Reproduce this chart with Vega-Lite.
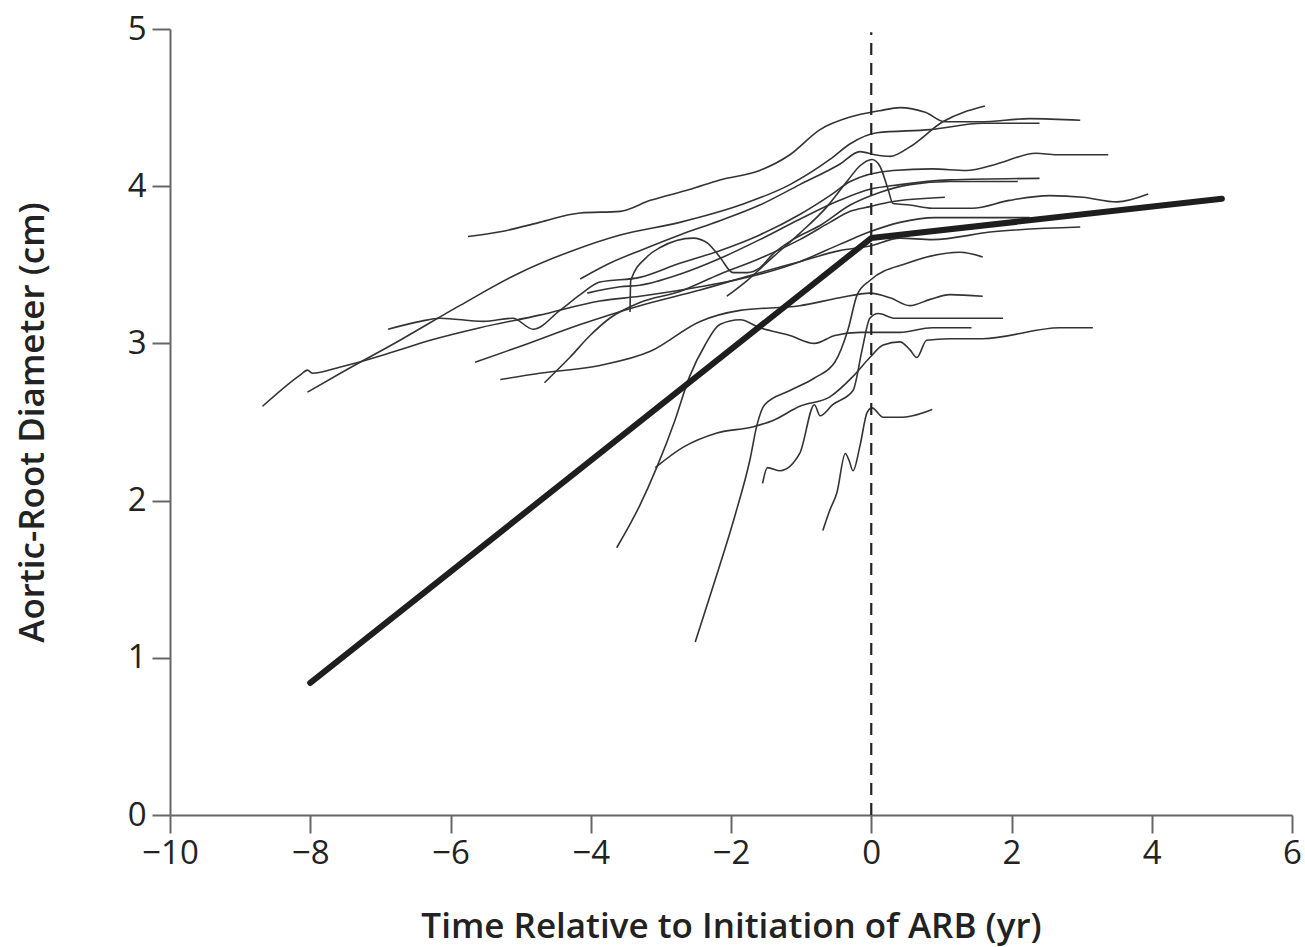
{
  "$schema": "https://vega.github.io/schema/vega-lite/v6.json",
  "width": 1122,
  "height": 786,
  "autosize": "none",
  "padding": {"left": 170, "top": 29, "right": 13, "bottom": 132},
  "background": "white",
  "config": {
    "view": {"stroke": null},
    "font": "Open Sans",
    "axis": {
      "grid": false,
      "domainColor": "#666666",
      "domainWidth": 2,
      "tickColor": "#666666",
      "tickWidth": 2,
      "tickSize": 18,
      "labelFont": "Open Sans",
      "labelFontSize": 33,
      "labelColor": "#222222",
      "labelFlush": false,
      "labelOverlap": false,
      "labelBound": false,
      "format": "d",
      "titleFont": "Open Sans",
      "titleFontSize": 35,
      "titleFontWeight": 600,
      "titleColor": "#222222"
    }
  },
  "datasets": {
    "curves": [
      {"s":"c1","x":-5.75,"y":3.68},{"s":"c1","x":-5.29,"y":3.71},{"s":"c1","x":-4.73,"y":3.77},{"s":"c1","x":-4.15,"y":3.83},{"s":"c1","x":-3.58,"y":3.84},{"s":"c1","x":-3.15,"y":3.91},{"s":"c1","x":-2.58,"y":3.98},{"s":"c1","x":-2.16,"y":4.04},{"s":"c1","x":-1.59,"y":4.10},{"s":"c1","x":-1.16,"y":4.20},{"s":"c1","x":-0.73,"y":4.36},{"s":"c1","x":-0.30,"y":4.44},{"s":"c1","x":0.12,"y":4.48},{"s":"c1","x":0.41,"y":4.50},{"s":"c1","x":0.77,"y":4.47},{"s":"c1","x":1.05,"y":4.41},{"s":"c1","x":1.55,"y":4.41},{"s":"c1","x":2.26,"y":4.43},{"s":"c1","x":2.98,"y":4.42},
      {"s":"c2","x":-8.04,"y":2.69},{"s":"c2","x":-7.57,"y":2.81},{"s":"c2","x":-6.72,"y":3.02},{"s":"c2","x":-5.87,"y":3.24},{"s":"c2","x":-5.01,"y":3.45},{"s":"c2","x":-4.26,"y":3.59},{"s":"c2","x":-3.58,"y":3.69},{"s":"c2","x":-2.73,"y":3.77},{"s":"c2","x":-1.87,"y":3.88},{"s":"c2","x":-1.16,"y":4.01},{"s":"c2","x":-0.59,"y":4.17},{"s":"c2","x":-0.30,"y":4.27},{"s":"c2","x":0.08,"y":4.34},{"s":"c2","x":0.84,"y":4.36},{"s":"c2","x":1.59,"y":4.40},{"s":"c2","x":2.40,"y":4.40},
      {"s":"c3","x":-4.15,"y":3.41},{"s":"c3","x":-3.73,"y":3.51},{"s":"c3","x":-3.30,"y":3.59},{"s":"c3","x":-2.73,"y":3.69},{"s":"c3","x":-2.16,"y":3.78},{"s":"c3","x":-1.59,"y":3.88},{"s":"c3","x":-1.02,"y":4.01},{"s":"c3","x":-0.45,"y":4.14},{"s":"c3","x":-0.16,"y":4.22},{"s":"c3","x":0.05,"y":4.20},{"s":"c3","x":0.27,"y":4.19},{"s":"c3","x":0.55,"y":4.25},{"s":"c3","x":1.02,"y":4.41},{"s":"c3","x":1.62,"y":4.51},
      {"s":"c4","x":-6.89,"y":3.09},{"s":"c4","x":-6.43,"y":3.14},{"s":"c4","x":-6.15,"y":3.16},{"s":"c4","x":-5.53,"y":3.14},{"s":"c4","x":-5.11,"y":3.16},{"s":"c4","x":-4.82,"y":3.09},{"s":"c4","x":-4.44,"y":3.21},{"s":"c4","x":-4.15,"y":3.31},{"s":"c4","x":-3.87,"y":3.39},{"s":"c4","x":-3.30,"y":3.42},{"s":"c4","x":-2.73,"y":3.51},{"s":"c4","x":-2.16,"y":3.59},{"s":"c4","x":-1.59,"y":3.69},{"s":"c4","x":-1.02,"y":3.82},{"s":"c4","x":-0.59,"y":3.94},{"s":"c4","x":-0.30,"y":4.03},{"s":"c4","x":0.31,"y":4.10},{"s":"c4","x":0.87,"y":4.11},{"s":"c4","x":1.36,"y":4.10},{"s":"c4","x":1.78,"y":4.14},{"s":"c4","x":2.35,"y":4.21},{"s":"c4","x":2.64,"y":4.20},{"s":"c4","x":3.38,"y":4.20},
      {"s":"c5","x":-3.44,"y":3.20},{"s":"c5","x":-3.43,"y":3.40},{"s":"c5","x":-3.20,"y":3.55},{"s":"c5","x":-3.01,"y":3.61},{"s":"c5","x":-2.54,"y":3.67},{"s":"c5","x":-2.34,"y":3.64},{"s":"c5","x":-2.16,"y":3.55},{"s":"c5","x":-1.97,"y":3.45},{"s":"c5","x":-1.77,"y":3.45},{"s":"c5","x":-1.59,"y":3.48},{"s":"c5","x":-1.40,"y":3.57},{"s":"c5","x":-1.12,"y":3.66},{"s":"c5","x":-0.73,"y":3.75},{"s":"c5","x":-0.30,"y":3.88},{"s":"c5","x":0.12,"y":3.96},{"s":"c5","x":0.55,"y":4.01},{"s":"c5","x":1.12,"y":4.03},{"s":"c5","x":2.09,"y":4.03},
      {"s":"c6","x":-5.65,"y":2.88},{"s":"c6","x":-5.01,"y":2.98},{"s":"c6","x":-4.15,"y":3.12},{"s":"c6","x":-3.30,"y":3.24},{"s":"c6","x":-2.44,"y":3.34},{"s":"c6","x":-1.59,"y":3.45},{"s":"c6","x":-1.02,"y":3.52},{"s":"c6","x":-0.45,"y":3.59},{"s":"c6","x":-0.02,"y":3.62},{"s":"c6","x":0.41,"y":3.67},{"s":"c6","x":0.87,"y":3.66},{"s":"c6","x":1.73,"y":3.71},{"s":"c6","x":2.98,"y":3.74},
      {"s":"c7","x":-4.66,"y":2.75},{"s":"c7","x":-4.30,"y":2.91},{"s":"c7","x":-4.01,"y":3.05},{"s":"c7","x":-3.73,"y":3.16},{"s":"c7","x":-3.30,"y":3.26},{"s":"c7","x":-2.73,"y":3.33},{"s":"c7","x":-2.16,"y":3.44},{"s":"c7","x":-1.59,"y":3.54},{"s":"c7","x":-1.02,"y":3.66},{"s":"c7","x":-0.59,"y":3.77},{"s":"c7","x":-0.30,"y":3.84},{"s":"c7","x":-0.02,"y":3.87},{"s":"c7","x":0.27,"y":3.90},{"s":"c7","x":1.05,"y":3.93},
      {"s":"c8","x":-8.68,"y":2.60},{"s":"c8","x":-8.14,"y":2.80},{"s":"c8","x":-8.04,"y":2.83},{"s":"c8","x":-7.97,"y":2.81},{"s":"c8","x":-7.57,"y":2.85},{"s":"c8","x":-6.86,"y":2.94},{"s":"c8","x":-6.29,"y":3.02},{"s":"c8","x":-5.58,"y":3.10},{"s":"c8","x":-4.73,"y":3.18},{"s":"c8","x":-3.87,"y":3.27},{"s":"c8","x":-3.30,"y":3.30},{"s":"c8","x":-2.44,"y":3.36},{"s":"c8","x":-1.59,"y":3.44},{"s":"c8","x":-1.02,"y":3.52},{"s":"c8","x":-0.45,"y":3.63},{"s":"c8","x":-0.02,"y":3.71},{"s":"c8","x":0.41,"y":3.77},{"s":"c8","x":0.91,"y":3.80},{"s":"c8","x":2.26,"y":3.80},
      {"s":"c9","x":-4.05,"y":3.32},{"s":"c9","x":-3.58,"y":3.36},{"s":"c9","x":-3.30,"y":3.37},{"s":"c9","x":-2.73,"y":3.44},{"s":"c9","x":-2.16,"y":3.54},{"s":"c9","x":-1.59,"y":3.66},{"s":"c9","x":-1.02,"y":3.79},{"s":"c9","x":-0.45,"y":3.91},{"s":"c9","x":-0.02,"y":3.98},{"s":"c9","x":0.41,"y":4.01},{"s":"c9","x":1.12,"y":4.04},{"s":"c9","x":2.40,"y":4.05},
      {"s":"c10","x":-2.06,"y":3.30},{"s":"c10","x":-1.77,"y":3.40},{"s":"c10","x":-1.40,"y":3.55},{"s":"c10","x":-1.02,"y":3.70},{"s":"c10","x":-0.63,"y":3.87},{"s":"c10","x":-0.33,"y":4.04},{"s":"c10","x":-0.16,"y":4.13},{"s":"c10","x":0.01,"y":4.17},{"s":"c10","x":0.12,"y":4.13},{"s":"c10","x":0.24,"y":3.98},{"s":"c10","x":0.31,"y":3.89},{"s":"c10","x":0.55,"y":3.88},{"s":"c10","x":0.87,"y":3.86},{"s":"c10","x":1.44,"y":3.86},{"s":"c10","x":1.97,"y":3.91},{"s":"c10","x":2.54,"y":3.94},{"s":"c10","x":3.02,"y":3.93},{"s":"c10","x":3.50,"y":3.90},{"s":"c10","x":3.95,"y":3.95},
      {"s":"c11","x":-5.29,"y":2.77},{"s":"c11","x":-4.73,"y":2.81},{"s":"c11","x":-3.87,"y":2.86},{"s":"c11","x":-3.15,"y":2.95},{"s":"c11","x":-2.44,"y":3.14},{"s":"c11","x":-1.87,"y":3.21},{"s":"c11","x":-1.02,"y":3.24},{"s":"c11","x":-0.45,"y":3.29},{"s":"c11","x":-0.02,"y":3.32},{"s":"c11","x":0.27,"y":3.29},{"s":"c11","x":0.55,"y":3.24},{"s":"c11","x":0.84,"y":3.28},{"s":"c11","x":1.12,"y":3.31},{"s":"c11","x":1.59,"y":3.30},
      {"s":"c12","x":-2.51,"y":1.10},{"s":"c12","x":-2.23,"y":1.49},{"s":"c12","x":-1.94,"y":1.91},{"s":"c12","x":-1.73,"y":2.26},{"s":"c12","x":-1.63,"y":2.48},{"s":"c12","x":-1.52,"y":2.61},{"s":"c12","x":-1.16,"y":2.70},{"s":"c12","x":-0.81,"y":2.78},{"s":"c12","x":-0.52,"y":2.88},{"s":"c12","x":-0.33,"y":3.09},{"s":"c12","x":-0.20,"y":3.31},{"s":"c12","x":-0.02,"y":3.40},{"s":"c12","x":0.51,"y":3.51},{"s":"c12","x":1.27,"y":3.58},{"s":"c12","x":1.59,"y":3.55},
      {"s":"c13","x":-3.63,"y":1.70},{"s":"c13","x":-3.30,"y":1.97},{"s":"c13","x":-3.06,"y":2.21},{"s":"c13","x":-2.80,"y":2.51},{"s":"c13","x":-2.59,"y":2.79},{"s":"c13","x":-2.37,"y":2.99},{"s":"c13","x":-2.16,"y":3.12},{"s":"c13","x":-1.87,"y":3.15},{"s":"c13","x":-1.59,"y":3.10},{"s":"c13","x":-1.16,"y":3.05},{"s":"c13","x":-0.81,"y":3.00},{"s":"c13","x":-0.52,"y":3.05},{"s":"c13","x":-0.16,"y":3.07},{"s":"c13","x":0.41,"y":3.07},{"s":"c13","x":0.87,"y":3.10},{"s":"c13","x":1.43,"y":3.10},
      {"s":"c14","x":-3.08,"y":2.21},{"s":"c14","x":-2.68,"y":2.34},{"s":"c14","x":-2.20,"y":2.43},{"s":"c14","x":-1.68,"y":2.47},{"s":"c14","x":-1.40,"y":2.51},{"s":"c14","x":-1.02,"y":2.60},{"s":"c14","x":-0.59,"y":2.66},{"s":"c14","x":-0.26,"y":2.79},{"s":"c14","x":-0.02,"y":2.91},{"s":"c14","x":0.17,"y":2.99},{"s":"c14","x":0.41,"y":3.01},{"s":"c14","x":0.55,"y":2.96},{"s":"c14","x":0.65,"y":2.91},{"s":"c14","x":0.79,"y":3.02},{"s":"c14","x":1.12,"y":3.03},{"s":"c14","x":1.59,"y":3.03},{"s":"c14","x":2.69,"y":3.10},{"s":"c14","x":3.16,"y":3.10},
      {"s":"c15","x":-1.55,"y":2.11},{"s":"c15","x":-1.48,"y":2.21},{"s":"c15","x":-1.30,"y":2.19},{"s":"c15","x":-1.02,"y":2.30},{"s":"c15","x":-0.81,"y":2.61},{"s":"c15","x":-0.73,"y":2.54},{"s":"c15","x":-0.55,"y":2.61},{"s":"c15","x":-0.26,"y":2.70},{"s":"c15","x":-0.13,"y":2.96},{"s":"c15","x":-0.02,"y":3.16},{"s":"c15","x":0.10,"y":3.19},{"s":"c15","x":0.34,"y":3.16},{"s":"c15","x":1.88,"y":3.16},
      {"s":"c16","x":-0.69,"y":1.81},{"s":"c16","x":-0.59,"y":1.94},{"s":"c16","x":-0.49,"y":2.05},{"s":"c16","x":-0.37,"y":2.30},{"s":"c16","x":-0.32,"y":2.26},{"s":"c16","x":-0.26,"y":2.19},{"s":"c16","x":-0.16,"y":2.35},{"s":"c16","x":-0.06,"y":2.56},{"s":"c16","x":0.01,"y":2.59},{"s":"c16","x":0.17,"y":2.53},{"s":"c16","x":0.41,"y":2.53},{"s":"c16","x":0.59,"y":2.54},{"s":"c16","x":0.87,"y":2.58}
    ],
    "trend": [
      {"x": -8, "y": 0.84},
      {"x": 0, "y": 3.67},
      {"x": 5, "y": 3.92}
    ],
    "zero": [{"x": 0, "y": 0, "y2": 4.98}]
  },
  "layer": [
    {
      "data": {"name": "curves"},
      "mark": {"type": "line", "interpolate": "monotone", "color": "#333333", "strokeWidth": 1.6},
      "encoding": {
        "x": {
          "field": "x", "type": "quantitative",
          "scale": {"domain": [-10, 6], "nice": false, "zero": false},
          "axis": {
            "title": "Time Relative to Initiation of ARB (yr)",
            "values": [-10, -8, -6, -4, -2, 0, 2, 4, 6],
            "format": "d",
            "labelPadding": 4,
            "titleY": 122,
            "titleBaseline": "alphabetic"
          }
        },
        "y": {
          "field": "y", "type": "quantitative",
          "scale": {"domain": [0, 5], "nice": false},
          "axis": {
            "title": "Aortic-Root Diameter (cm)",
            "values": [0, 1, 2, 3, 4, 5],
            "format": "d",
            "labelPadding": 6,
            "titleX": -120,
            "titleY": 393,
            "titleBaseline": "bottom"
          }
        },
        "detail": {"field": "s"}
      }
    },
    {
      "data": {"name": "zero"},
      "mark": {"type": "rule", "strokeDash": [12, 8], "color": "#222222", "strokeWidth": 2.2},
      "encoding": {
        "x": {"field": "x", "type": "quantitative"},
        "y": {"field": "y", "type": "quantitative"},
        "y2": {"field": "y2"}
      }
    },
    {
      "data": {"name": "trend"},
      "mark": {"type": "line", "color": "#1e1e1e", "strokeWidth": 6, "strokeCap": "round", "strokeJoin": "round"},
      "encoding": {
        "x": {"field": "x", "type": "quantitative"},
        "y": {"field": "y", "type": "quantitative"}
      }
    }
  ]
}
